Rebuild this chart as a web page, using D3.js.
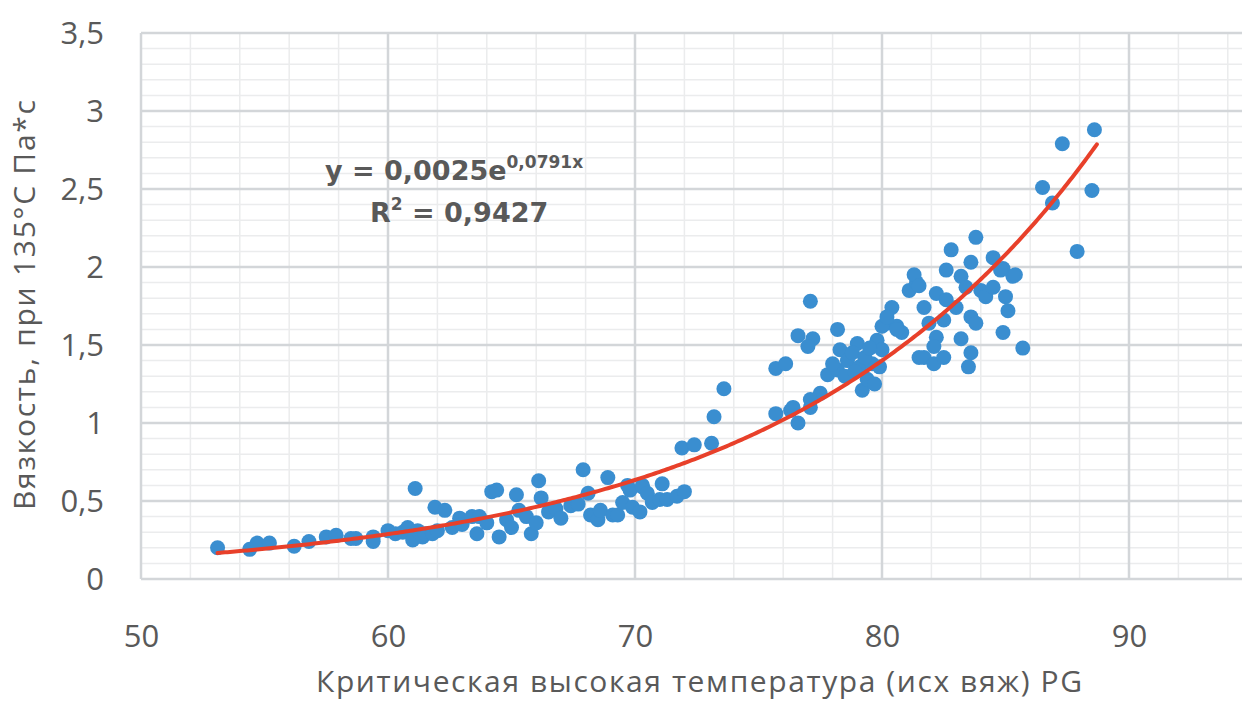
<!DOCTYPE html>
<html>
<head>
<meta charset="utf-8">
<script src="https://cdn.jsdelivr.net/npm/d3@7/dist/d3.min.js"></script>
<style>
  html, body { margin: 0; padding: 0; background: #fff; }
  svg { display: block; }
  text { font-family: "Open Sans", "Noto Sans", sans-serif; fill: #595959; }
</style>
</head>
<body>
<svg id="chart" width="1242" height="701"></svg>
<script>
// Critical high temperature (PG) vs viscosity at 135 °C
const tempPG = [
  53.1, 54.4, 54.7, 55.2, 56.2, 56.8, 57.5, 57.9, 58.5, 58.7, 59.4, 59.4, 60.0, 60.3, 60.6, 60.8,
  61.0, 61.1, 61.2, 61.4, 61.5, 61.8, 61.9, 62.0, 62.3, 62.6, 62.9, 63.0, 63.4, 63.6, 63.7, 64.0,
  64.2, 64.4, 64.5, 64.8, 65.0, 65.2, 65.3, 65.6, 65.8, 66.0, 66.1, 66.2, 66.5, 66.8, 67.0, 67.4,
  67.7, 67.9, 68.1, 68.2, 68.5, 68.6, 68.9, 69.1, 69.3, 69.5, 69.7, 69.8, 69.9, 70.2, 70.3, 70.3,
  70.5, 70.7, 71.0, 71.1, 71.3, 71.7, 72.0, 71.9, 72.4, 73.1, 73.2, 73.6,
  75.7, 76.3, 76.6, 75.7, 76.1, 77.1, 76.6, 77.2, 77.0, 76.4, 77.1, 77.5, 77.1, 77.8, 78.2, 78.2,
  78.3, 78.6, 79.0, 79.1, 79.2, 79.4, 79.6, 79.8, 80.0, 80.2, 80.4, 80.6, 80.8, 81.1, 81.4, 81.5,
  78.5, 78.8, 79.3, 79.5, 78.0, 79.9, 80.0, 80.6, 79.7, 78.9,
  83.8, 82.8, 81.3, 81.5, 80.2, 82.6, 83.2, 83.6, 84.5, 84.9, 85.3, 82.2, 82.6, 83.4, 84.0, 84.2,
  84.5, 85.0, 85.1, 81.7, 83.0, 83.6, 83.8, 81.9, 82.5, 82.2, 83.2, 82.1, 84.9, 81.7, 82.1, 82.5,
  83.6, 83.5, 85.7, 88.6, 87.3, 86.5, 86.9, 88.5, 87.9, 84.8, 85.4
];
const viscosity = [
  0.20, 0.19, 0.23, 0.23, 0.21, 0.24, 0.27, 0.28, 0.26, 0.26, 0.27, 0.24, 0.31, 0.29, 0.30, 0.33,
  0.25, 0.58, 0.31, 0.27, 0.29, 0.29, 0.46, 0.31, 0.44, 0.33, 0.39, 0.35, 0.40, 0.29, 0.40, 0.36,
  0.56, 0.57, 0.27, 0.38, 0.33, 0.54, 0.44, 0.40, 0.29, 0.36, 0.63, 0.52, 0.43, 0.45, 0.39, 0.47,
  0.48, 0.70, 0.55, 0.41, 0.38, 0.44, 0.65, 0.41, 0.41, 0.49, 0.60, 0.57, 0.46, 0.43, 0.59, 0.60,
  0.55, 0.49, 0.51, 0.61, 0.51, 0.53, 0.56, 0.84, 0.86, 0.87, 1.04, 1.22,
  1.06, 1.08, 1.00, 1.35, 1.38, 1.78, 1.56, 1.54, 1.49, 1.10, 1.10, 1.19, 1.15, 1.31, 1.34, 1.60,
  1.47, 1.40, 1.51, 1.36, 1.21, 1.28, 1.38, 1.53, 1.47, 1.64, 1.74, 1.62, 1.58, 1.85, 1.90, 1.42,
  1.30, 1.45, 1.42, 1.48, 1.38, 1.36, 1.62, 1.60, 1.25, 1.33,
  2.19, 2.11, 1.95, 1.88, 1.68, 1.98, 1.94, 2.03, 2.06, 1.99, 1.94, 1.83, 1.79, 1.87, 1.85, 1.81,
  1.87, 1.81, 1.72, 1.74, 1.74, 1.68, 1.64, 1.64, 1.66, 1.55, 1.54, 1.49, 1.58, 1.42, 1.38, 1.42,
  1.45, 1.36, 1.48, 2.88, 2.79, 2.51, 2.41, 2.49, 2.10, 1.98, 1.95
];

// Exponential trendline y = a·e^(b·x)
const trendA = 0.0025;
const trendB = 0.0791;
const trendRange = [53.1, 88.7];
const rSquared = "0,9427";

const xTicks = [50, 60, 70, 80, 90];
const yTicks = [0, 0.5, 1, 1.5, 2, 2.5, 3, 3.5];
const xTitle = "Критическая высокая температура (исх вяж) PG";
const yTitle = "Вязкость, при 135°C Па*с";

const svg = d3.select("#chart");
const x = d3.scaleLinear().domain([50, 95]).range([141, 1252.5]);
const y = d3.scaleLinear().domain([0, 3.5]).range([579, 33]);
const fmt = v => String(v).replace(".", ",");

// Minor gridlines
const minorX = d3.range(50, 95.01, 2).filter(v => v % 10 !== 0);
const minorY = d3.range(0, 3.501, 0.1).filter(v => Math.abs(v * 2 - Math.round(v * 2)) > 1e-6);
const grid = svg.append("g");
grid.selectAll(".mx").data(minorX).join("line")
  .attr("x1", d => x(d)).attr("x2", d => x(d)).attr("y1", y(0)).attr("y2", y(3.5))
  .attr("stroke", "#ebeced").attr("stroke-width", 1.5);
grid.selectAll(".my").data(minorY).join("line")
  .attr("x1", x(50)).attr("x2", x(95)).attr("y1", d => y(d)).attr("y2", d => y(d))
  .attr("stroke", "#ebeced").attr("stroke-width", 1.5);
// Major gridlines
grid.selectAll(".Mx").data(d3.range(50, 95.01, 10)).join("line")
  .attr("x1", d => x(d)).attr("x2", d => x(d)).attr("y1", y(0)).attr("y2", y(3.5))
  .attr("stroke", "#d3d6d9").attr("stroke-width", 2.5);
grid.selectAll(".My").data(yTicks).join("line")
  .attr("x1", x(50)).attr("x2", x(95)).attr("y1", d => y(d)).attr("y2", d => y(d))
  .attr("stroke", "#d3d6d9").attr("stroke-width", 2.5);

// Axes (labels only)
const xAxis = d3.axisBottom(x).tickValues(xTicks).tickSize(0).tickPadding(0).tickFormat(fmt);
const gx = svg.append("g").attr("transform", `translate(0,${y(0)})`).call(xAxis);
gx.select(".domain").remove();
gx.selectAll("text").attr("font-size", 31).attr("dy", null).attr("y", 68).style("fill", "#595959");

const yAxis = d3.axisLeft(y).tickValues(yTicks).tickSize(0).tickPadding(0).tickFormat(fmt);
const gy = svg.append("g").attr("transform", `translate(${x(50)},0)`).call(yAxis);
gy.select(".domain").remove();
gy.selectAll("text").attr("font-size", 31).attr("x", -37).attr("dy", "0.35em").style("fill", "#595959");

// Axis titles
svg.append("text").attr("x", 699).attr("y", 692).attr("text-anchor", "middle")
  .attr("font-size", 30).attr("textLength", 766).attr("lengthAdjust", "spacing").text(xTitle);
svg.append("text").attr("transform", "translate(35,305) rotate(-90)").attr("text-anchor", "middle")
  .attr("font-size", 30).attr("textLength", 410).attr("lengthAdjust", "spacing").text(yTitle);

// Scatter points
const pts = tempPG.map((t, i) => ({ t, v: viscosity[i] }));
svg.append("g").selectAll("circle").data(pts).join("circle")
  .attr("cx", d => x(d.t)).attr("cy", d => y(d.v)).attr("r", 7.5)
  .attr("fill", "#3a8ed0");

// Trendline
const trendData = d3.range(trendRange[0], trendRange[1] + 0.001, 0.1).map(t => ({ t, v: trendA * Math.exp(trendB * t) }));
svg.append("path").datum(trendData)
  .attr("d", d3.line().x(d => x(d.t)).y(d => y(d.v)))
  .attr("fill", "none").attr("stroke", "#e8402a").attr("stroke-width", 4).attr("stroke-linecap", "round");

// Trendline equation
const eqFont = "'DejaVu Sans', sans-serif";
const eq = svg.append("text").attr("x", 325).attr("y", 180)
  .attr("font-size", 27).attr("font-weight", "bold").style("font-family", eqFont).style("fill", "#595959");
eq.append("tspan").text("y = 0,0025e");
eq.append("tspan").attr("font-size", 17).attr("dy", -12).text("0,0791x");
const r2 = svg.append("text").attr("x", 370).attr("y", 222)
  .attr("font-size", 27).attr("font-weight", "bold").style("font-family", eqFont).style("fill", "#595959");
r2.append("tspan").text("R");
r2.append("tspan").attr("font-size", 17).attr("dy", -12).text("2");
r2.append("tspan").attr("dy", 12).text(" = " + rSquared);
</script>
</body>
</html>
